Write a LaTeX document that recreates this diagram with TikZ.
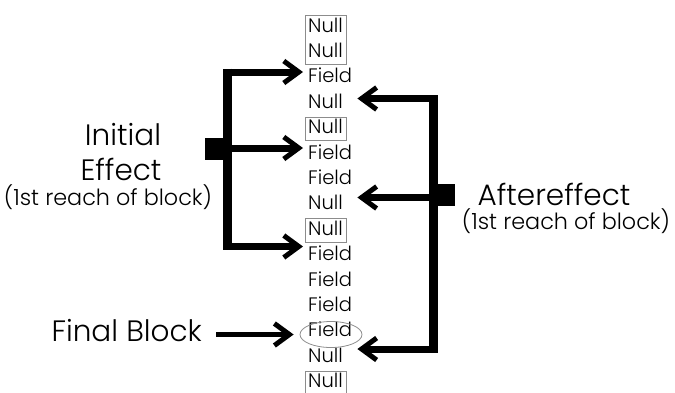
\documentclass[tikz,border=0pt]{standalone}
\usepackage{fontspec}
\setmainfont{Poppins}[UprightFont=* Light]
\usetikzlibrary{arrows.meta,fit,shapes.geometric,calc}
\begin{document}
\begin{tikzpicture}[x=1pt,y=-1pt,
  row/.style={anchor=west, text width=35pt, align=left, inner xsep=3pt, inner ysep=0pt,
    minimum height=23pt, text height=14pt, text depth=4pt, font=\fontsize{19.5}{19.5}\selectfont},
  frame/.style={draw=black!45, line width=0.8pt, inner sep=0pt},
  big/.style={anchor=base, inner sep=0pt, font=\fontsize{29.5}{29.5}\selectfont},
  small/.style={anchor=base, inner sep=0pt, font=\fontsize{22.3}{22.3}\selectfont},
  barb/.style={-{Straight Barb[length=15pt,width=22pt,line width=5pt]}, line width=7pt},
  fbarb/.style={-{Straight Barb[length=15pt,width=22pt,line width=5pt]}, line width=5.5pt},
  bar/.style={line width=9pt},
  sq/.style={fill=black, minimum size=22pt, inner sep=0pt}
]
\useasboundingbox (0,0) rectangle (675,392);

% list of rows
\foreach \t [count=\i] in {Null,Null,Field,Null,Null,Field,Field,Null,Null,Field,Field,Field,Field,Null,Null}{
  \node[row] (r\i) at (305,{27+25.4*(\i-1)}) {\t};
}
\node[frame, fit=(r1)(r2)] (b1) {};
\node[frame, fit=(r5)] (b2) {};
\node[frame, fit=(r9)] (b3) {};
\node[frame, fit=(r15)] (b4) {};
\node[ellipse, draw=black!45, line width=0.8pt, minimum width=62pt, minimum height=26pt, inner sep=0pt] (fb) at (331,334.5) {};

% labels
\node[big] (ini) at (123,145) {Initial};
\node[big] (eff) at (121,180) {Effect};
\node[small] (sub1) at (108,205) {(1st reach of block)};
\node[big] (aft) at (554,205) {Aftereffect};
\node[small] (sub2) at (566,229) {(1st reach of block)};
\node[big, anchor=base east] (fbl) at (202,341) {Final Block};

% left bracket
\coordinate (LT) at (227.5,72);
\coordinate (LM) at (227.5,148);
\coordinate (LB) at (227.5,246.5);
\coordinate (LTT) at (227.5,68.5);
\coordinate (LBB) at (227.5,250);
\draw[bar] (LTT) -- (LBB);
\draw[barb] (LT) -- ([xshift=-2pt]r3.west |- LT);
\draw[barb] (LM) -- ([xshift=-2pt]r6.west |- LM);
\draw[barb] (LB) -- ([xshift=-2pt]r10.west |- LB);
\node[sq, anchor=east] (lsq) at (227.5,149) {};

% right bracket
\coordinate (RT) at (433,98.5);
\coordinate (RM) at (433,197.5);
\coordinate (RB) at (433,349);
\coordinate (RTT) at (433,95);
\coordinate (RBB) at (433,352.5);
\coordinate (tip4) at ([xshift=11pt]r4.east);
\coordinate (tip8) at ([xshift=11pt]r8.east);
\coordinate (tip14) at ([xshift=11pt]r14.east);
\draw[bar] (RTT) -- (RBB);
\draw[barb] (RT) -- (tip4 |- RT);
\draw[barb] (RM) -- (tip8 |- RM);
\draw[barb] (RB) -- (tip14 |- RB);
\node[sq, anchor=west] (rsq) at (433,195) {};

% final block arrow
\draw[fbarb, shorten <=14pt, shorten >=6pt] (fbl.east |- fb.west) -- (fb.west);
\end{tikzpicture}
\end{document}
